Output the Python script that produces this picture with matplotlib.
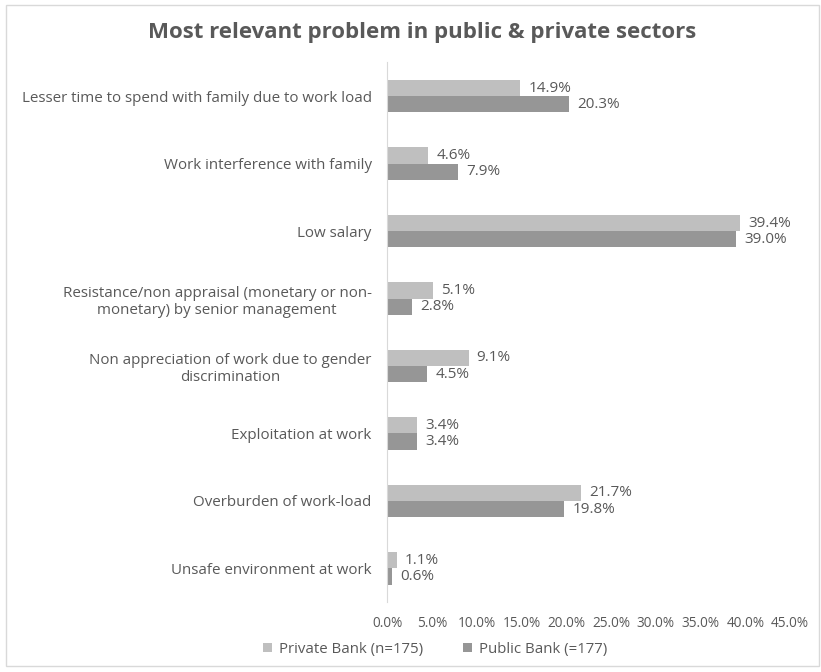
import matplotlib.pyplot as plt
from matplotlib.patches import Rectangle
import numpy as np

plt.rcParams['font.family'] = ['Open Sans', 'DejaVu Sans']

categories = [
    "Lesser time to spend with family due to work load",
    "Work interference with family",
    "Low salary",
    "Resistance/non appraisal (monetary or non-\nmonetary) by senior management",
    "Non appreciation of work due to gender\ndiscrimination",
    "Exploitation at work",
    "Overburden of work-load",
    "Unsafe environment at work",
]
private_bank = [14.9, 4.6, 39.4, 5.1, 9.1, 3.4, 21.7, 1.1]
public_bank = [20.3, 7.9, 39.0, 2.8, 4.5, 3.4, 19.8, 0.6]
xticks = [0, 5, 10, 15, 20, 25, 30, 35, 40, 45]

text_col = '#595959'
fig = plt.figure(figsize=(8.21, 6.72), dpi=100)
ax = fig.add_axes([0.4714, 0.104, 0.491, 0.803])

y = np.arange(len(categories))
h = 0.24
ax.barh(y - h / 2, private_bank, height=h, color='#BFBFBF', label='Private Bank (n=175)')
ax.barh(y + h / 2, public_bank, height=h, color='#969696', label='Public Bank (=177)')

for i, (a, b) in enumerate(zip(private_bank, public_bank)):
    ax.text(a + 0.9, i - h / 2, f"{a:.1f}%", va='center', ha='left', fontsize=11, color=text_col)
    ax.text(b + 0.9, i + h / 2, f"{b:.1f}%", va='center', ha='left', fontsize=11, color=text_col)

ax.set_xlim(0, 45)
ax.set_ylim(len(categories) - 0.5, -0.5)
ax.set_xticks(xticks)
ax.set_xticklabels([f"{t:.1f}%" for t in xticks], fontsize=9.8, color=text_col)
ax.set_yticks(y)
ax.set_yticklabels(categories, fontsize=10.9, color=text_col, multialignment='center')
ax.tick_params(axis='both', length=0)
ax.tick_params(axis='y', pad=11)
ax.tick_params(axis='x', pad=10)
for s in ['top', 'right', 'bottom']:
    ax.spines[s].set_visible(False)
ax.spines['left'].set_color('#D9D9D9')

fig.text(0.514, 0.952, "Most relevant problem in public & private sectors",
         ha='center', va='center', fontsize=16, fontweight='bold', color=text_col)

fig.legend(loc='center', bbox_to_anchor=(0.53, 0.034), ncol=2, frameon=False,
           fontsize=10.8, labelcolor=text_col, handlelength=0.6, handleheight=0.6,
           columnspacing=2.6, handletextpad=0.5)

fig.patches.append(Rectangle((0.007, 0.009), 0.991, 0.984, transform=fig.transFigure,
                             fill=False, edgecolor='#D9D9D9', linewidth=1))

fig.savefig('out.png', dpi=100)
